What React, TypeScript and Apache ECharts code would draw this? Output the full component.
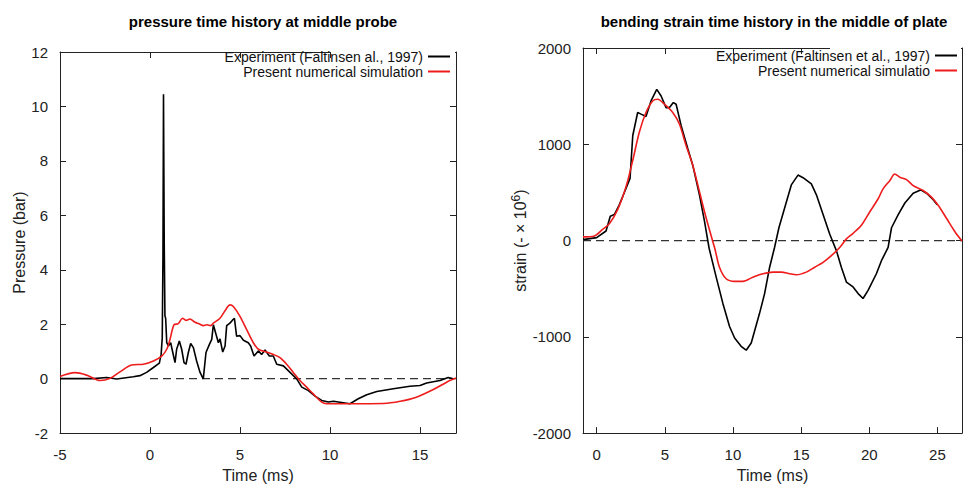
import React, { useEffect, useRef } from "react";
import * as echarts from "echarts";

// ---- pressure at the middle probe ----
const pExpT = [-5, -3.15, -2.41, -1.85, -0.93, -0.56, -0.19, 0.19, 0.52, 0.62, 0.68, 0.72, 0.75, 0.79, 0.83, 0.87, 0.93, 1.02, 1.15, 1.26, 1.39, 1.48, 1.63, 1.76, 1.89, 2.0, 2.13, 2.26, 2.41, 2.59, 2.78, 2.96, 3.11, 3.3, 3.43, 3.52, 3.67, 3.8, 3.89, 4.04, 4.17, 4.26, 4.44, 4.57, 4.69, 4.81, 5.0, 5.19, 5.46, 5.59, 5.78, 6.02, 6.2, 6.39, 6.63, 6.85, 7.04, 7.41, 7.78, 8.15, 8.43, 8.8, 9.17, 9.54, 9.91, 10.19, 11.11, 11.57, 12.04, 12.6, 13.52, 14.44, 15.0, 15.37, 16.11, 16.57, 16.85];
const pExpV = [0, 0, 0.04, -0.01, 0.07, 0.11, 0.23, 0.41, 0.57, 0.9, 1.5, 4.5, 10.45, 5.0, 2.3, 2.22, 1.32, 1.2, 1.32, 0.98, 0.59, 1.08, 1.38, 1.08, 0.59, 0.53, 0.96, 1.29, 1.14, 0.65, 0.23, -0.01, 0.96, 1.26, 1.44, 1.98, 1.62, 1.32, 1.46, 0.98, 1.2, 1.95, 2.04, 2.14, 2.22, 1.56, 1.58, 1.41, 1.32, 1.2, 0.83, 1.02, 0.89, 1.05, 0.83, 0.83, 0.53, 0.47, 0.23, -0.01, -0.31, -0.44, -0.64, -0.8, -0.86, -0.83, -0.92, -0.74, -0.59, -0.47, -0.37, -0.28, -0.25, -0.16, -0.07, 0.04, 0.0];
const pSimT = [-5, -4.17, -3.52, -2.78, -2.22, -1.67, -1.02, -0.37, 0.19, 0.65, 0.93, 1.11, 1.33, 1.57, 1.81, 2.0, 2.22, 2.5, 2.72, 2.96, 3.15, 3.37, 3.52, 3.89, 4.26, 4.44, 4.63, 5.0, 5.37, 5.74, 6.02, 6.48, 6.85, 7.22, 7.59, 7.96, 8.33, 8.7, 9.07, 9.54, 9.81, 11.1, 12.96, 13.9, 14.8, 15.74, 16.48, 17.0];
const pSimV = [0.08, 0.22, 0.13, -0.07, 0.01, 0.25, 0.5, 0.53, 0.65, 0.83, 1.08, 1.44, 1.98, 2.02, 2.22, 2.14, 2.19, 2.07, 2.02, 1.95, 1.98, 1.95, 2.04, 2.22, 2.59, 2.71, 2.65, 2.29, 1.8, 1.32, 1.08, 0.98, 0.89, 0.77, 0.53, 0.23, -0.07, -0.31, -0.56, -0.86, -0.92, -0.92, -0.91, -0.83, -0.68, -0.4, -0.13, 0.02];

// ---- bending strain in the middle of the plate ----
const sExpT = [-1.0, 0.0, 0.69, 1.0, 1.3, 1.67, 2.16, 2.45, 2.65, 3.01, 3.26, 3.62, 3.99, 4.41, 4.73, 5.09, 5.34, 5.63, 5.83, 6.2, 6.69, 7.05, 7.54, 7.91, 8.25, 8.77, 9.26, 9.75, 10.12, 10.6, 10.97, 11.34, 11.95, 12.32, 12.69, 13.05, 13.37, 13.79, 14.28, 14.77, 15.14, 15.75, 16.12, 16.61, 17.1, 17.6, 17.95, 18.32, 18.81, 19.18, 19.54, 19.91, 20.52, 20.89, 21.38, 21.63, 22.12, 22.61, 23.22, 23.76, 24.2, 24.69, 24.98];
const sExpV = [10, 30, 99, 253, 270, 373, 544, 646, 1091, 1330, 1313, 1289, 1450, 1570, 1501, 1381, 1381, 1433, 1416, 1193, 954, 783, 475, 201, -80, -380, -653, -893, -1012, -1098, -1139, -1064, -756, -551, -277, -72, 133, 338, 578, 680, 653, 588, 475, 270, 65, -110, -277, -431, -482, -551, -602, -517, -345, -209, -72, 133, 270, 390, 492, 526, 492, 424, 373];
const sSimT = [-1.0, -0.17, 0.44, 0.93, 1.54, 2.16, 2.65, 3.13, 3.62, 4.11, 4.48, 4.97, 5.58, 6.07, 6.56, 7.05, 7.54, 8.03, 8.52, 8.7, 9.01, 9.5, 10.12, 10.73, 11.46, 12.2, 12.93, 13.54, 14.16, 14.65, 15.38, 15.99, 16.61, 17.22, 17.83, 18.32, 18.81, 19.42, 20.03, 20.65, 21.01, 21.5, 21.87, 22.24, 22.73, 23.22, 23.59, 23.95, 24.56, 25.05, 25.67, 26.28, 26.8];
const sSimV = [38, 48, 116, 174, 321, 561, 834, 1125, 1330, 1450, 1467, 1416, 1330, 1210, 988, 783, 509, 236, -10, -100, -277, -397, -424, -424, -380, -345, -328, -328, -345, -355, -328, -277, -226, -157, -72, 17, 75, 160, 297, 434, 537, 622, 691, 657, 633, 571, 544, 520, 451, 366, 229, 92, -5];

const pTicksX = [-5, 0, 5, 10, 15];
const sTicksX = [0, 5, 10, 15, 20, 25];

const NAME_P_EXP = "Experiment (Faltinsen al., 1997)";
const NAME_P_SIM = "Present numerical simulation";
const NAME_S_EXP = "Experiment (Faltinsen et al., 1997)";
const NAME_S_SIM = "Present numerical simulatio";

const FONT = "'Liberation Sans', Arial, Helvetica, sans-serif";
const INK = "#222";
const RED = "#ee1c1c";

const zip = (t: number[], v: number[]) => t.map((x, i) => [x, v[i]]);

export default function App() {
  const ref = useRef<HTMLDivElement>(null);

  useEffect(() => {
    if (!ref.current) return;
    const chart = echarts.init(ref.current, null, { renderer: "svg" });

    const frameAxisLine = { show: true, onZero: false, lineStyle: { color: INK, width: 1 } };
    const tick = { show: true, inside: true, length: 6, lineStyle: { color: INK } };
    const label = { color: INK, fontSize: 15, fontFamily: FONT, formatter: (v: number) => String(v) };
    const nameStyle = { color: INK, fontSize: 16, fontFamily: FONT };

    const pxRange = { min: -5, max: 17 };
    const pyRange = { min: -2, max: 12, interval: 2 };
    const sxRange = { min: -1, max: 26.8 };
    const syRange = { min: -2000, max: 2000, interval: 1000 };

    const legendBase = {
      orient: "vertical",
      align: "right",
      padding: 0,
      itemGap: 0,
      itemWidth: 22,
      itemHeight: 2,
      icon: "rect",
      z: 6,
      textStyle: { fontSize: 14, lineHeight: 15, color: "#111", fontFamily: FONT },
    };

    const option: any = {
      animation: false,
      backgroundColor: "#fff",
      title: [
        {
          text: "pressure time history at middle probe",
          left: 258,
          top: 9,
          textAlign: "center",
          textStyle: { fontSize: 15, fontWeight: "bold", color: "#000", fontFamily: FONT },
        },
        {
          text: "bending strain time history in the middle of plate",
          left: 769,
          top: 9,
          textAlign: "center",
          textStyle: { fontSize: 15, fontWeight: "bold", color: "#000", fontFamily: FONT },
        },
      ],
      legend: [
        { ...legendBase, data: [NAME_P_EXP, NAME_P_SIM], right: 517, top: 49 },
        { ...legendBase, data: [NAME_S_EXP, NAME_S_SIM], right: 10, top: 48 },
      ],
      grid: [
        { left: 60, top: 52, width: 396, height: 386, containLabel: false },
        { left: 583, top: 48, width: 379, height: 390, containLabel: false },
      ],
      xAxis: [
        {
          type: "value", gridIndex: 0, position: "bottom", ...pxRange,
          axisLine: frameAxisLine,
          axisTick: { ...tick, customValues: pTicksX },
          splitLine: { show: false },
          axisLabel: { ...label, margin: 14, customValues: pTicksX },
          name: "Time (ms)", nameLocation: "middle", nameGap: 33, nameTextStyle: nameStyle,
        },
        {
          type: "value", gridIndex: 0, position: "top", ...pxRange,
          axisLine: frameAxisLine,
          axisTick: { ...tick, customValues: pTicksX },
          splitLine: { show: false },
          axisLabel: { show: false },
        },
        {
          type: "value", gridIndex: 1, position: "bottom", ...sxRange,
          axisLine: frameAxisLine,
          axisTick: { ...tick, customValues: sTicksX },
          splitLine: { show: false },
          axisLabel: { ...label, margin: 14, customValues: sTicksX },
          name: "Time (ms)", nameLocation: "middle", nameGap: 33, nameTextStyle: nameStyle,
        },
        {
          type: "value", gridIndex: 1, position: "top", ...sxRange,
          axisLine: frameAxisLine,
          axisTick: { ...tick, customValues: sTicksX },
          splitLine: { show: false },
          axisLabel: { show: false },
        },
      ],
      yAxis: [
        {
          type: "value", gridIndex: 0, position: "left", ...pyRange,
          axisLine: frameAxisLine, axisTick: tick, splitLine: { show: false },
          axisLabel: { ...label, margin: 12 },
          name: "Pressure (bar)", nameLocation: "middle", nameGap: 32, nameTextStyle: nameStyle,
        },
        {
          type: "value", gridIndex: 0, position: "right", ...pyRange,
          axisLine: frameAxisLine, axisTick: tick, splitLine: { show: false },
          axisLabel: { show: false },
        },
        {
          type: "value", gridIndex: 1, position: "left", ...syRange,
          axisLine: frameAxisLine, axisTick: tick, splitLine: { show: false },
          axisLabel: { ...label, margin: 12 },
          name: "strain (- \u00d7 10{sup|6})", nameLocation: "middle", nameGap: 53,
          nameTextStyle: {
            ...nameStyle,
            rich: { sup: { fontSize: 12, verticalAlign: "top", padding: [0, 0, 8, 0], color: INK, fontFamily: FONT } },
          },
        },
        {
          type: "value", gridIndex: 1, position: "right", ...syRange,
          axisLine: frameAxisLine, axisTick: tick, splitLine: { show: false },
          axisLabel: { show: false },
        },
      ],
      graphic: [
        // white strips where the key boxes break the upper frame (kept under the legend text)
        { type: "rect", shape: { x: 331, y: 49, width: 124, height: 10 }, style: { fill: "#fff" }, z: 3 },
        { type: "rect", shape: { x: 830, y: 45, width: 131, height: 10 }, style: { fill: "#fff" }, z: 3 },
      ],
      series: [
        {
          name: "zero-p", type: "line", xAxisIndex: 0, yAxisIndex: 0,
          data: [[0, 0], [17, 0]], symbol: "none", silent: true,
          lineStyle: { color: "#333", width: 1.2, type: [8, 5] }, z: 1,
        },
        {
          name: NAME_P_EXP, type: "line", xAxisIndex: 0, yAxisIndex: 0,
          data: zip(pExpT, pExpV), symbol: "none",
          lineStyle: { color: "#000", width: 1.6 }, itemStyle: { color: "#000" }, z: 2,
        },
        {
          name: NAME_P_SIM, type: "line", xAxisIndex: 0, yAxisIndex: 0,
          data: zip(pSimT, pSimV), symbol: "none", smooth: 0.3,
          lineStyle: { color: RED, width: 1.6 }, itemStyle: { color: RED }, z: 2,
        },
        {
          name: "zero-s", type: "line", xAxisIndex: 2, yAxisIndex: 2,
          data: [[-1, 0], [26.8, 0]], symbol: "none", silent: true,
          lineStyle: { color: "#333", width: 1.2, type: [8, 5] }, z: 1,
        },
        {
          name: NAME_S_EXP, type: "line", xAxisIndex: 2, yAxisIndex: 2,
          data: zip(sExpT, sExpV), symbol: "none",
          lineStyle: { color: "#000", width: 1.6 }, itemStyle: { color: "#000" }, z: 2,
        },
        {
          name: NAME_S_SIM, type: "line", xAxisIndex: 2, yAxisIndex: 2,
          data: zip(sSimT, sSimV), symbol: "none", smooth: 0.3,
          lineStyle: { color: RED, width: 1.6 }, itemStyle: { color: RED }, z: 2,
        },
      ],
    };

    chart.setOption(option);
    return () => chart.dispose();
  }, []);

  return (
    <div
      ref={ref}
      style={{ position: "fixed", left: 0, top: 0, width: 967, height: 488, background: "#fff" }}
    />
  );
}
